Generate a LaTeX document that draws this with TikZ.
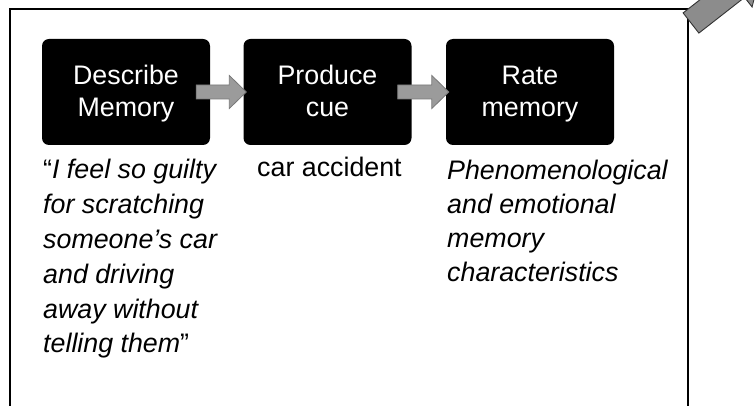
\documentclass[tikz,border=0pt]{standalone}
\usepackage{fontspec}
\setmainfont{Liberation Sans}
\usetikzlibrary{calc}
\definecolor{arrowfill}{RGB}{155,155,155}
\definecolor{arrowline}{RGB}{120,120,120}
\definecolor{bigfill}{RGB}{140,140,140}
\newcommand\topstrut{\rule{0pt}{24pt}}
\newcommand\botstrut{\rule[-6pt]{0pt}{6pt}}
\tikzset{
  stepbox/.style={fill=black, rounded corners=7pt, minimum width=168pt, minimum height=106pt,
    inner sep=0pt, text=white, align=center, font=\fontsize{26.8}{32}\selectfont},
  caption/.style={anchor=base west, inner sep=0pt, align=left, font=\fontsize{26.8}{34.7}\selectfont},
  garrow/.style={fill=arrowfill, draw=arrowline, line width=0.8pt, line join=miter}
}
\begin{document}
\begin{tikzpicture}[x=1pt,y=-1pt]
\useasboundingbox (0,0) rectangle (756,406);
% frame (bottom edge outside picture)
\draw[line width=1.8pt] (10,406) -- (10,9) -- (688,9) -- (688,406);
% arrow leaving the frame at the top right
\begin{scope}
  \clip (0,0) rectangle (756,406);
  \begin{scope}[shift={(691,23)}, rotate=38]
    \draw[fill=bigfill, draw=black!80, line width=0.9pt, line join=miter]
      (0,-12.8) -- (58,-12.8) -- (58,-25) -- (90,0) -- (58,25) -- (58,12.8) -- (0,12.8) -- cycle;
  \end{scope}
\end{scope}
% step boxes
\node[stepbox] (b1) at (126,92) {\topstrut Describe\\Memory\botstrut};
\node[stepbox] (b2) at (327.5,92) {\topstrut Produce\\cue\botstrut};
\node[stepbox] (b3) at (530,92) {\topstrut Rate\\memory\botstrut};
% block arrows between boxes
\foreach \s/\e in {b1/b2, b2/b3}{
  \draw[garrow] let \p1=($(\s.east)+(-14,0)$), \p2=($(\e.west)+(3,0)$) in
    (\x1,\y1+7) -- (\x2-17,\y1+7) -- (\x2-17,\y1+16.5) -- (\x2,\y1) --
    (\x2-17,\y1-16.5) -- (\x2-17,\y1-7) -- (\x1,\y1-7) -- cycle;
}
% captions (base anchor = baseline of the last line)
\node[caption, font=\fontsize{26.8}{35}\selectfont\itshape] (t1) at (43,353)
  {{\upshape “}I feel so guilty\\for scratching\\someone’s car\\and driving\\away without\\telling them{\upshape ”}};
\node[caption] (t2) at (257,177) {car accident};
\node[caption, font=\fontsize{26.8}{34.3}\selectfont\itshape] (t3) at (447,282)
  {Phenomenological\\and emotional\\memory\\characteristics};
\end{tikzpicture}
\end{document}
